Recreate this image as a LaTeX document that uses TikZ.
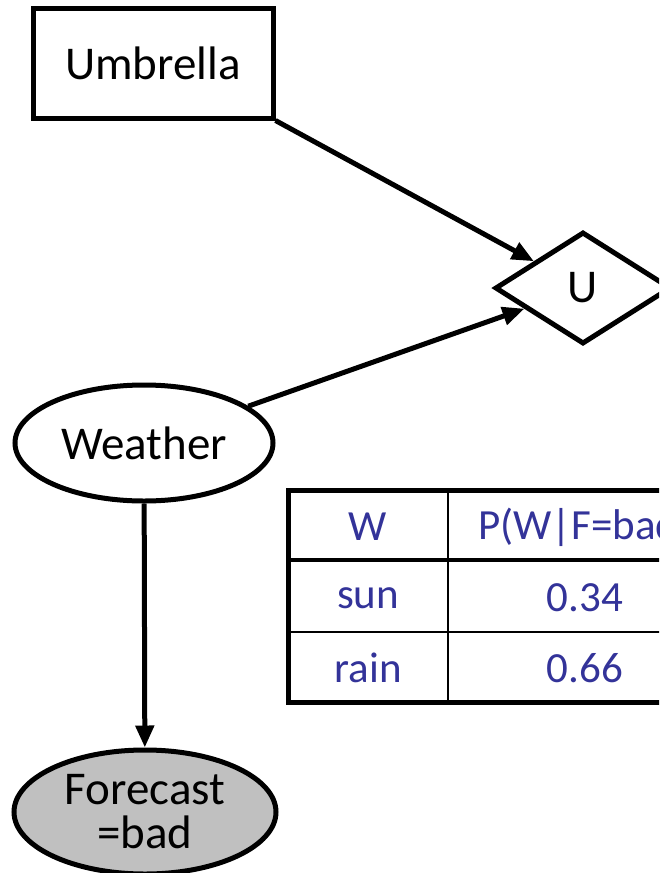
\documentclass[tikz,border=0pt]{standalone}
\usepackage{fontspec}
\setmainfont{Carlito}
\usetikzlibrary{shapes.geometric,arrows.meta}
\definecolor{tabblue}{RGB}{51,51,153}
\tikzset{
    chance/.style={ellipse, draw, line width=5pt, minimum width=258pt, minimum height=116pt, inner sep=0pt, font=\fontsize{47}{47}\selectfont},
    arr/.style={line width=5pt, -{Triangle[length=22pt,width=18pt]}},
    cell/.style={text=tabblue, font=\fontsize{43}{43}\selectfont}
}
\begin{document}
\begin{tikzpicture}[x=1pt,y=-1pt]
    \useasboundingbox (0,0) rectangle (659,873);
    \clip (0,0) rectangle (659,873);
    \node[draw, line width=5pt, minimum width=240pt, minimum height=110pt, font=\fontsize{47}{47}\selectfont] (umb) at (153,63) {Umbrella};
    \node[diamond, draw, line width=5pt, minimum width=176pt, minimum height=112pt, inner sep=0pt, font=\fontsize{47}{47}\selectfont] (u) at (583,288) {U};
    \node[chance] (weather) at (144,443) {Weather};
    \node[chance, fill={rgb,255:red,192;green,192;blue,192}, minimum width=262pt, minimum height=124pt, align=center] (fc) at (145,812) {Forecast\\[-3pt]=bad};
    \draw[arr] (umb.south east) -- (u);
    \draw[arr] (weather) -- (u);
    \draw[arr] (weather) -- (fc);
    \draw[line width=2pt] (448,490) -- (448,702);
    \draw[line width=2pt] (288,632) -- (722,632);
    \draw[line width=4pt] (288,560) -- (722,560);
    \draw[line width=5pt] (288,490) rectangle (722,702);
    \node[cell] (h1) at (368,527) {W};
    \node[cell] (h2) at (585,527) {P(W|F=bad)};
    \node[cell] (s1) at (368,598) {sun};
    \node[cell] (s2) at (585,598) {0.34};
    \node[cell] (r1) at (368,668) {rain};
    \node[cell] (r2) at (585,668) {0.66};
\end{tikzpicture}
\end{document}
